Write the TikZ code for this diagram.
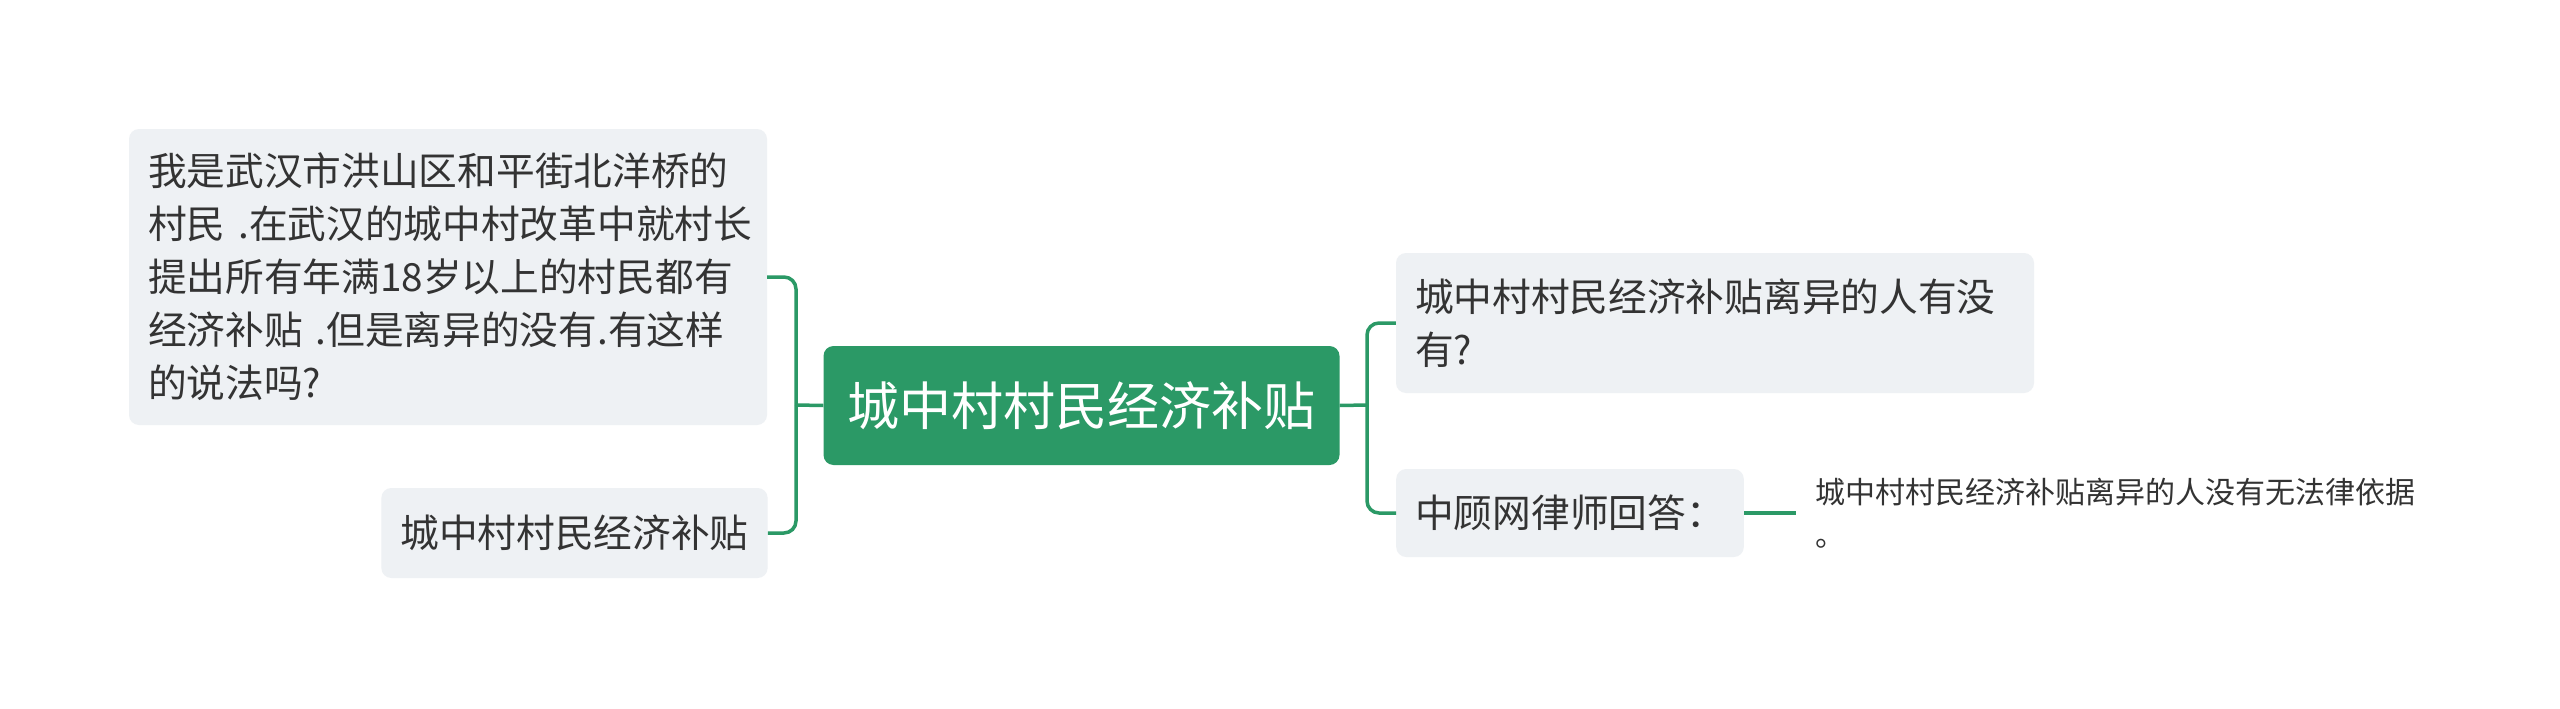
\documentclass[tikz,border=0pt]{standalone}
\usepackage{fontspec}
\setmainfont{Noto Sans CJK SC}
\definecolor{mapgreen}{RGB}{43,153,102}
\definecolor{boxgray}{RGB}{238,241,244}
\definecolor{inkgray}{RGB}{51,51,51}

\begin{document}
\begin{tikzpicture}[x=1pt, y=-1pt,
    root/.style={fill=mapgreen, text=white, rounded corners=10pt,
        inner xsep=24pt, minimum height=119pt,
        font=\fontsize{52}{62}\selectfont},
    topic/.style={fill=boxgray, text=inkgray, rounded corners=10pt,
        inner xsep=19pt, align=left,
        font=\fontsize{38.7}{53}\selectfont},
    leaf/.style={text=inkgray, inner xsep=19pt, align=left,
        text width=600pt, font=\fontsize{30}{43}\selectfont},
    link/.style={draw=mapgreen, line width=3.5pt, rounded corners=12pt}
]
    \fill[white] (0,0) rectangle (2560,709);

    \node[root] (root) at (1081.5,405.5) {城中村村民经济补贴};
    \node[topic, text width=600pt, minimum height=296pt] (q) at (448,277)
        {我是武汉市洪山区和平街北洋桥的\\村民 .在武汉的城中村改革中就村长\\提出所有年满18岁以上的村民都有\\经济补贴 .但是离异的没有.有这样\\的说法吗?};
    \node[topic, minimum height=90pt] (s) at (574.5,533) {城中村村民经济补贴};
    \node[topic, text width=600pt, minimum height=140pt] (ask) at (1715,323)
        {城中村村民经济补贴离异的人有没\\有?};
    \node[topic, minimum height=88pt] (ans) at (1570,513) {中顾网律师回答：};
    \node[leaf, anchor=west] (leaf) at (1796,513)
        {城中村村民经济补贴离异的人没有无法律依据\\。};

    \coordinate (lj) at (796,405);
    \coordinate (rj) at (1367,405);

    \draw[link] (root.west) -- (lj);
    \draw[link] (lj) |- (q.east);
    \draw[link] (lj) |- (s.east);
    \draw[link] (root.east) -- (rj);
    \draw[link] (rj) |- (ask.west);
    \draw[link] (rj) |- (ans.west);
    \draw[link] (ans.east) -- (leaf.west);
\end{tikzpicture}
\end{document}
